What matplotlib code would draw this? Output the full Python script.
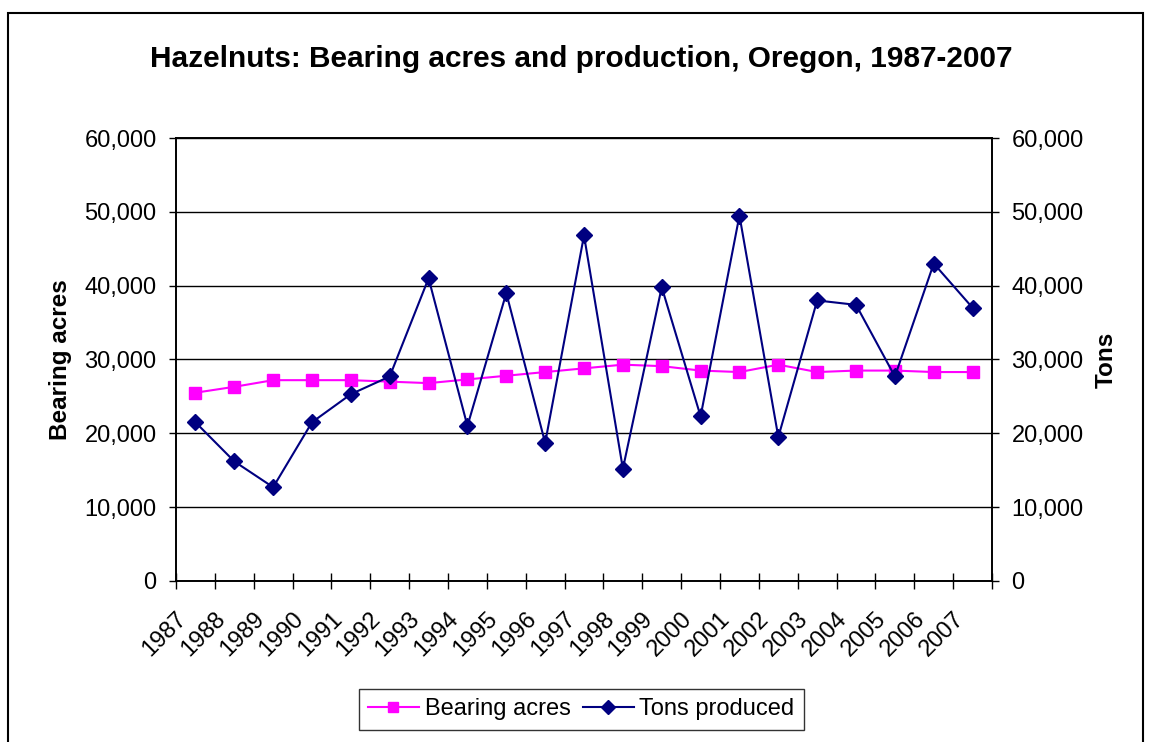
import matplotlib
matplotlib.use("Agg")
import matplotlib.pyplot as plt
import matplotlib.transforms as mtransforms
from matplotlib.patches import Rectangle
from matplotlib.ticker import FuncFormatter, MultipleLocator
import numpy as np

# 数据：俄勒冈榛子结果面积与产量
years = ['1987', '1988', '1989', '1990', '1991', '1992', '1993', '1994', '1995', '1996', '1997',
         '1998', '1999', '2000', '2001', '2002', '2003', '2004', '2005', '2006', '2007']
bearing_acres = [25500, 26300, 27200, 27200, 27200, 27000, 26800, 27300, 27800, 28300, 28800,
                 29300, 29100, 28500, 28300, 29300, 28300, 28500, 28500, 28300, 28300]
tons_produced = [21500, 16200, 12700, 21500, 25300, 27700, 41000, 21000, 39000, 18700, 46800,
                 15200, 39800, 22300, 49500, 19500, 38000, 37400, 27700, 43000, 37000]

plt.rcParams['font.family'] = ['Liberation Sans', 'DejaVu Sans']

fig = plt.figure(figsize=(11.51, 7.42), dpi=100)
ax = fig.add_axes([0.1529, 0.217, 0.709, 0.597])
ax2 = ax.twinx()

x = np.arange(len(years))

ax.plot(x, bearing_acres, color='#FF00FF', marker='s', markersize=8, linewidth=1.5,
        label='Bearing acres', zorder=3)
ax2.plot(x, tons_produced, color='#000080', marker='D', markersize=8.5, linewidth=1.5,
         label='Tons produced', zorder=3)

fmt = FuncFormatter(lambda v, p: f"{int(v):,}")
for a in (ax, ax2):
    a.set_ylim(0, 60000)
    a.yaxis.set_major_locator(MultipleLocator(10000))
    a.yaxis.set_major_formatter(fmt)
    a.tick_params(axis='y', labelsize=17, direction='out', length=5, width=1, pad=9)
    for s in a.spines.values():
        s.set_color('black')
        s.set_linewidth(1.2)

ax.set_xlim(-0.5, len(years) - 0.5)
ax.grid(axis='y', color='black', linewidth=1)
ax.set_axisbelow(True)

# 刻度线在类别之间，标签在类别中心
ax.set_xticks(x)
ax.set_xticklabels(years, rotation=45, ha='right', rotation_mode='anchor')
ax.set_xticks(np.arange(-0.5, len(years)), minor=True)
ax.tick_params(axis='x', which='major', length=0, labelsize=17, pad=19)
ax.tick_params(axis='x', which='minor', direction='inout', length=12, width=1)
shift = mtransforms.ScaledTranslation(-0.2, 0, fig.dpi_scale_trans)
for lab in ax.get_xticklabels():
    lab.set_transform(lab.get_transform() + shift)

ax.set_ylabel('Bearing acres', fontsize=17.5, fontweight='bold', labelpad=9)
ax2.set_ylabel('Tons', fontsize=17.5, fontweight='bold', labelpad=8)

fig.text(0.505, 0.920, 'Hazelnuts: Bearing acres and production, Oregon, 1987-2007',
         ha='center', va='center', fontsize=21.4, fontweight='bold')

h1, l1 = ax.get_legend_handles_labels()
h2, l2 = ax2.get_legend_handles_labels()
leg = fig.legend(h1 + h2, l1 + l2, loc='center', bbox_to_anchor=(0.505, 0.044), ncol=2,
                 fontsize=17, frameon=True, fancybox=False, edgecolor='black',
                 handlelength=2.16, columnspacing=0.5, handletextpad=0.25, borderpad=0.4,
                 markerscale=0.85)
leg.get_frame().set_linewidth(1)

# 图表外框
fig.patches.append(Rectangle((8 / 1151, -0.05), 1135 / 1151, 1.05 - 13 / 742,
                             transform=fig.transFigure, fill=False, edgecolor='black',
                             linewidth=1.5))

fig.savefig('out.png', dpi=100)
